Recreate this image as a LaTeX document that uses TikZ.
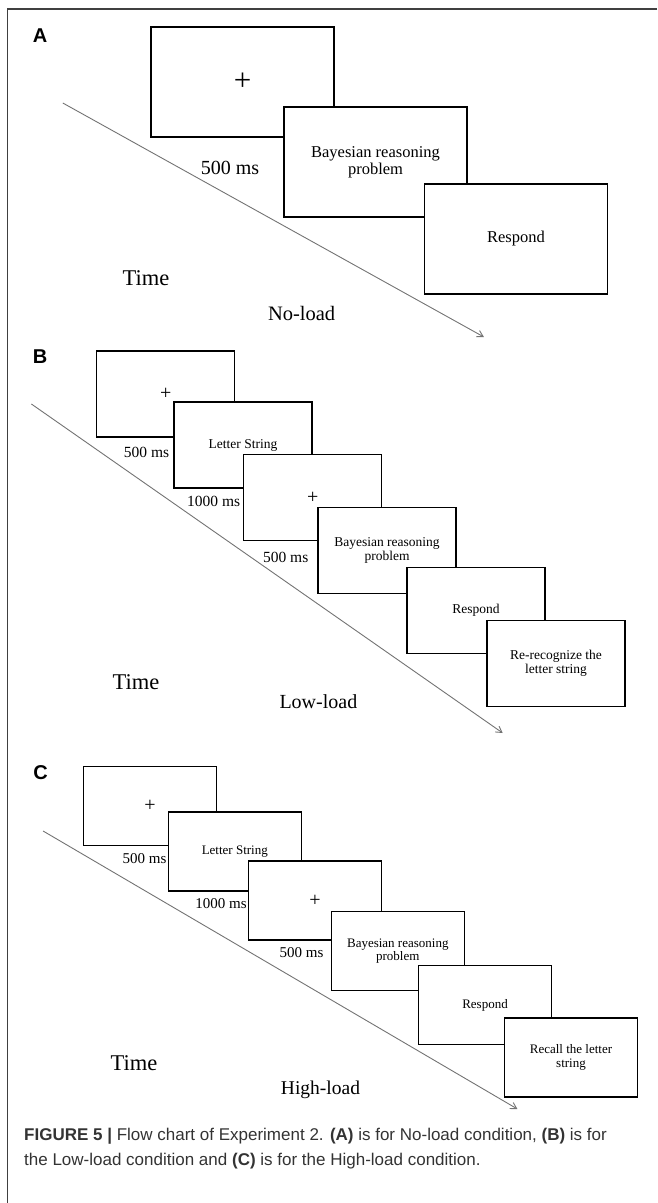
\documentclass[tikz,border=0pt]{standalone}
\usepackage{fontspec}
\setmainfont{Liberation Serif}
\setsansfont{Liberation Sans}
\usetikzlibrary{arrows.meta}

\begin{document}
\begin{tikzpicture}[x=1pt,y=-1pt,
  screen/.style={draw,fill=white,line width=1.1pt,inner sep=0pt,align=center},
  screenA/.style={screen,minimum width=183pt,minimum height=110pt,font=\fontsize{16.5}{17}\selectfont},
  screenB/.style={screen,minimum width=138pt,minimum height=86pt,font=\fontsize{13.5}{14}\selectfont},
  screenC/.style={screen,minimum width=133pt,minimum height=79pt,font=\fontsize{13}{13.5}\selectfont},
  fixA/.style={font=\fontsize{31}{31}\selectfont},
  fixBC/.style={font=\fontsize{20}{20}\selectfont},
  txt/.style={inner sep=0pt},
  panel/.style={inner sep=0pt,font=\sffamily\bfseries\fontsize{20}{20}\selectfont},
  timeline/.style={-{Straight Barb[length=6pt,width=7pt]},black!55,line width=0.9pt}]
\useasboundingbox (0,0) rectangle (657,1203);
% frame
\draw [black!75,line width=1.2pt] (657,9) -- (7.5,9) -- (7.5,1203);

% A: no-load
\coordinate (ta0) at (62.8,103);
\coordinate (ta1) at (483.9,337);
\draw [timeline] (ta0) -- (ta1);
\path node (a1) at (242.5,82) [screenA,fixA] {+}
      node (a2) at (375.5,162) [screenA] {Bayesian reasoning\\problem}
      node (a3) at (516,239) [screenA] {Respond};
\path node (pa) at (40,36) [panel] {A}
      node (da1) at (230,168) [txt,font=\fontsize{20}{20}\selectfont] {500 ms}
      node (timea) at (146,278) [txt,font=\fontsize{22.5}{22.5}\selectfont] {Time}
      node (conda) at (301.6,313) [txt,font=\fontsize{20.5}{20.5}\selectfont] {No-load};

% B: low-load
\coordinate (tb0) at (31.4,404);
\coordinate (tb1) at (502.7,733);
\draw [timeline] (tb0) -- (tb1);
\path node (b1) at (165.7,394) [screenB,fixBC] {+}
      node (b2) at (243,445) [screenB] {Letter String}
      node (b3) at (312.8,497.5) [screenB,fixBC] {+}
      node (b4) at (387,550.5) [screenB] {Bayesian reasoning\\problem}
      node (b5) at (476,610.5) [screenB] {Respond}
      node (b6) at (556,663.5) [screenB] {Re-recognize the\\letter string};
\path node (pb) at (40,357) [panel] {B}
      node (db1) at (146.6,452) [txt,font=\fontsize{15.5}{15.5}\selectfont] {500 ms}
      node (db2) at (213.7,501) [txt,font=\fontsize{15.5}{15.5}\selectfont] {1000 ms}
      node (db3) at (285.7,557) [txt,font=\fontsize{15.5}{15.5}\selectfont] {500 ms}
      node (timeb) at (136,682) [txt,font=\fontsize{22.5}{22.5}\selectfont] {Time}
      node (condb) at (318.4,702) [txt,font=\fontsize{20}{20}\selectfont] {Low-load};

% C: high-load
\coordinate (tc0) at (43.1,831);
\coordinate (tc1) at (517.4,1109);
\draw [timeline] (tc0) -- (tc1);
\path node (c1) at (150,806) [screenC,fixBC] {+}
      node (c2) at (234.8,851.5) [screenC] {Letter String}
      node (c3) at (315,900.5) [screenC,fixBC] {+}
      node (c4) at (397.8,951) [screenC] {Bayesian reasoning\\problem}
      node (c5) at (485,1005) [screenC] {Respond}
      node (c6) at (571,1057.5) [screenC] {Recall the letter\\string};
\path node (pc) at (40.6,773) [panel] {C}
      node (dc1) at (144.5,859) [txt,font=\fontsize{15}{15}\selectfont] {500 ms}
      node (dc2) at (221,904) [txt,font=\fontsize{15}{15}\selectfont] {1000 ms}
      node (dc3) at (301.6,953) [txt,font=\fontsize{15}{15}\selectfont] {500 ms}
      node (timec) at (134,1063) [txt,font=\fontsize{22.5}{22.5}\selectfont] {Time}
      node (condc) at (320.5,1090) [txt,font=\fontsize{19.5}{19.5}\selectfont] {High-load};

% caption
\node (cap) at (24,1165) [anchor=base west,inner sep=0pt,align=left,text=black!80,
  font=\sffamily\fontsize{17}{25}\selectfont]
  {\textbf{FIGURE 5 |} Flow chart of Experiment 2. \textbf{(A)} is for No-load condition, \textbf{(B)} is for\\
   the Low-load condition and \textbf{(C)} is for the High-load condition.};
\end{tikzpicture}
\end{document}
